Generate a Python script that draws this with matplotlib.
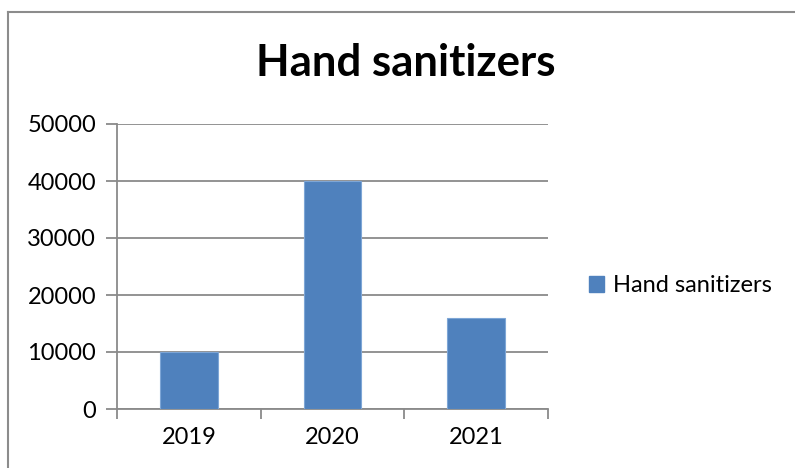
import matplotlib
matplotlib.use("Agg")
import matplotlib.pyplot as plt
from matplotlib.lines import Line2D
from matplotlib.patches import Patch

categories = ["2019", "2020", "2021"]
values = [10000, 40000, 16000]
series_name = "Hand sanitizers"
yticks = [0, 10000, 20000, 30000, 40000, 50000]

plt.rcParams['font.family'] = ['Lato', 'DejaVu Sans']
W, H = 795, 468
fig = plt.figure(figsize=(W / 100, H / 100), dpi=100)
ax = fig.add_axes([117 / W, 1 - 409 / H, (548 - 117) / W, (409 - 124) / H])

grid_c = "#8a8a8a"
x = list(range(len(categories)))
ax.bar(x, values, width=0.4, color="#4F81BD", edgecolor="#7EA6D6", linewidth=0.8, zorder=3)
ax.set_xlim(-0.5, len(categories) - 0.5)
ax.set_ylim(0, 50000)
ax.set_yticks(yticks)
ax.set_yticklabels([str(v) for v in yticks], fontsize=17, color="black")
ax.yaxis.grid(True, color=grid_c, linewidth=1.3, zorder=0)
ax.set_xticks(x)
ax.set_xticklabels(categories, fontsize=17, color="black")
ax.tick_params(axis='x', which='major', length=0, pad=13)
ax.set_xticks([i - 0.5 for i in range(len(categories) + 1)], minor=True)
ax.tick_params(axis='x', which='minor', length=7, width=1.3, color=grid_c, direction='out')
ax.tick_params(axis='y', length=8, width=1.3, color=grid_c, direction='out', pad=7)
for s in ["top", "right"]:
    ax.spines[s].set_visible(False)
for s in ["left", "bottom"]:
    ax.spines[s].set_color(grid_c)
    ax.spines[s].set_linewidth(1.3)

fig.text(406 / W, 1 - 63 / H, "Hand sanitizers", fontsize=31.5, fontweight="bold",
         ha="center", va="center")

handle = Patch(facecolor="#4F81BD", edgecolor="#4F81BD", label=series_name)
fig.legend(handles=[handle], loc="center left", bbox_to_anchor=(589 / W, 1 - 286 / H),
           frameon=False, fontsize=17, handlelength=0.65, handleheight=0.65,
           handletextpad=0.35, borderaxespad=0, borderpad=0)

fig.add_artist(Line2D([8 / W, 1], [1 - 12 / H, 1 - 12 / H], color="#8c8c8c", linewidth=1.5,
                      transform=fig.transFigure))
fig.add_artist(Line2D([8 / W, 8 / W], [0, 1 - 12 / H], color="#8c8c8c", linewidth=1.5,
                      transform=fig.transFigure))

fig.savefig("out.png", dpi=100)
